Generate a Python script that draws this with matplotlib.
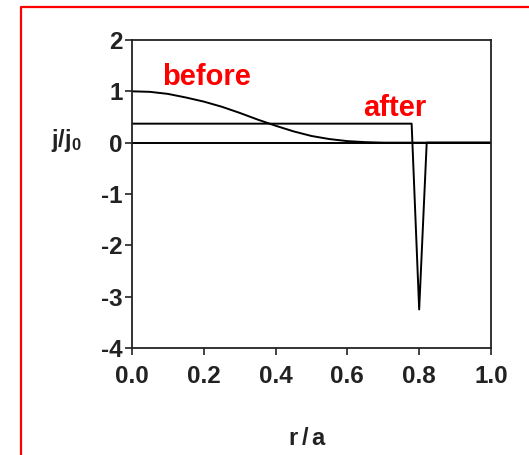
import numpy as np
import matplotlib
matplotlib.use("Agg")
import matplotlib.pyplot as plt
from matplotlib.lines import Line2D

plt.rcParams['font.family'] = ['Liberation Sans', 'DejaVu Sans']
plt.rcParams['mathtext.fontset'] = 'custom'
plt.rcParams['mathtext.rm'] = 'Liberation Sans'
plt.rcParams['mathtext.bf'] = 'Liberation Sans:bold'

# current density profile before the change (normalised to j0)
r_before = [0.0, 0.05, 0.10, 0.15, 0.20, 0.25, 0.30, 0.35, 0.40, 0.45,
            0.50, 0.55, 0.60, 0.65, 0.70, 1.0]
j_before = [1.0, 0.99, 0.95, 0.88, 0.80, 0.70, 0.58, 0.45, 0.33, 0.22,
            0.13, 0.07, 0.03, 0.01, 0.0, 0.0]

# flat profile after, with the negative spike near the edge
r_after = [0.0, 0.779, 0.80, 0.821, 1.0]
j_after = [0.37, 0.37, -3.25, 0.0, 0.0]

x_ticks = [0.0, 0.2, 0.4, 0.6, 0.8, 1.0]
y_ticks = [-4, -3, -2, -1, 0, 1, 2]

fig = plt.figure(figsize=(5.29, 4.55), dpi=100)
ax = fig.add_axes([0.2495, 0.2352, 0.6786, 0.6769])

ax.axhline(0, color='black', lw=1.4)
ax.plot(r_before, j_before, color='black', lw=1.4)
ax.plot(r_after, j_after, color='black', lw=1.4)

ax.set_xlim(0, 1.0)
ax.set_ylim(-4, 2)
ax.set_xticks(x_ticks)
ax.set_xticklabels([f"{t:.1f}" for t in x_ticks], fontweight='bold')
ax.set_yticks(y_ticks)
ax.set_yticklabels([str(t) for t in y_ticks], fontweight='bold')
ax.tick_params(direction='out', length=5, width=1.2, labelsize=17.5,
               color='#222222', labelcolor='#222222')
ax.tick_params(axis='x', pad=7)
ax.tick_params(axis='y', pad=1.5)
for s in ax.spines.values():
    s.set_linewidth(1.3)
    s.set_color('#222222')

fig.text(82 / 529, 1 - 141 / 455, r'$\mathbf{j/j_0}$', fontsize=17,
         ha='right', va='center', color='#222222')
fig.text(307 / 529, 1 - 439 / 455, r'$\mathbf{r\,/\,a}$', fontsize=17,
         ha='center', va='center', color='#222222')

fig.text(207 / 529, 1 - 77 / 455, 'before', color='red', fontsize=21,
         fontweight='bold', ha='center', va='center')
fig.text(395 / 529, 1 - 108 / 455, 'after', color='red', fontsize=21,
         fontweight='bold', ha='center', va='center')

# red frame along the top and left
fig.add_artist(Line2D([21 / 529, 21 / 529, 1.0], [0.0, 1 - 7 / 455, 1 - 7 / 455],
                      transform=fig.transFigure, color='red', lw=1.6))

fig.savefig('out.png', dpi=100)
